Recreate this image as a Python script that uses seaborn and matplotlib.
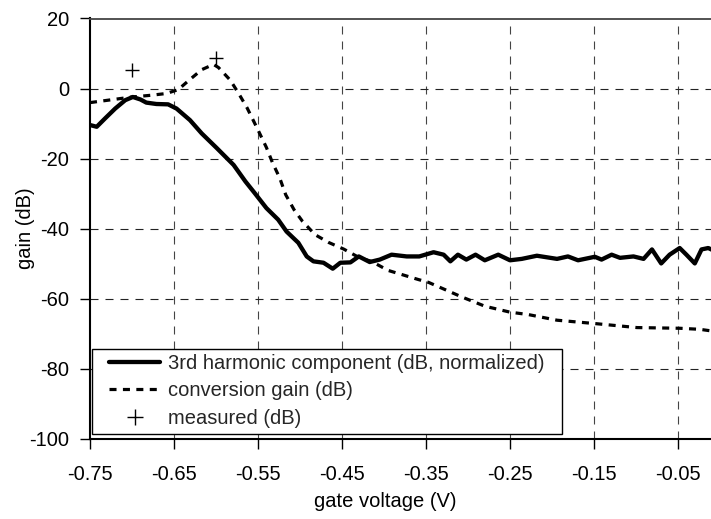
import matplotlib
matplotlib.use("Agg")
import matplotlib.pyplot as plt
import seaborn as sns
import pandas as pd
from matplotlib.lines import Line2D
from matplotlib.patches import Rectangle

# 3rd harmonic component (dB, normalized)
h3_v = [-0.750, -0.742, -0.732, -0.720, -0.708, -0.699, -0.690, -0.683, -0.671, -0.657,
        -0.647, -0.631, -0.617, -0.599, -0.579, -0.565, -0.554, -0.540, -0.526, -0.516,
        -0.502, -0.492, -0.484, -0.472, -0.461, -0.452, -0.440, -0.430, -0.417, -0.405,
        -0.391, -0.373, -0.358, -0.341, -0.329, -0.321, -0.312, -0.302, -0.291, -0.280,
        -0.264, -0.250, -0.236, -0.218, -0.194, -0.181, -0.169, -0.149, -0.141, -0.129,
        -0.119, -0.103, -0.091, -0.081, -0.070, -0.060, -0.048, -0.040, -0.030, -0.022,
        -0.014, -0.005]
h3_db = [-10.4, -10.9, -8.5, -5.7, -3.3, -2.4, -3.1, -4.0, -4.4, -4.5,
         -5.7, -9.0, -12.8, -17.0, -21.8, -26.5, -29.8, -34.1, -37.4, -40.8,
         -44.0, -47.9, -49.3, -49.7, -51.4, -49.7, -49.6, -47.9, -49.5, -48.8,
         -47.4, -47.9, -47.9, -46.7, -47.4, -49.3, -47.4, -48.8, -47.4, -49.0,
         -47.4, -49.0, -48.6, -47.7, -48.6, -47.9, -49.0, -48.0, -48.8, -47.4,
         -48.3, -47.9, -48.6, -45.9, -49.9, -47.4, -45.5, -47.4, -49.9, -45.9,
         -45.5, -46.5]

# conversion gain (dB)
cg_v = [-0.750, -0.728, -0.700, -0.677, -0.659, -0.645, -0.633, -0.617, -0.603, -0.597,
        -0.583, -0.573, -0.563, -0.550, -0.540, -0.533, -0.524, -0.517, -0.507, -0.497,
        -0.482, -0.466, -0.448, -0.429, -0.415, -0.395, -0.359, -0.347, -0.327, -0.308,
        -0.280, -0.250, -0.228, -0.194, -0.147, -0.099, -0.048, -0.024, 0.000]
cg_db = [-4.0, -3.3, -2.4, -1.9, -1.4, -0.3, 2.2, 5.4, 6.9, 6.0,
         2.4, -1.4, -5.5, -11.8, -16.8, -21.0, -25.6, -30.3, -34.6, -37.9,
         -41.7, -43.9, -45.8, -48.3, -49.3, -51.9, -54.5, -55.3, -57.4, -59.4,
         -62.1, -63.8, -64.5, -66.1, -67.1, -68.2, -68.4, -68.7, -69.5]

# measured (dB)
meas_v = [-0.70, -0.60]
meas_db = [5.2, 8.8]

x_ticks = [-0.75, -0.65, -0.55, -0.45, -0.35, -0.25, -0.15, -0.05]
x_tick_labels = ["-0.75", "-0.65", "-0.55", "-0.45", "-0.35", "-0.25", "-0.15", "-0.05"]
y_ticks = [-100, -80, -60, -40, -20, 0, 20]

labels = ["3rd harmonic component (dB, normalized)", "conversion gain (dB)", "measured (dB)"]

sns.set_theme(style="white")
plt.rcParams['font.family'] = ['Liberation Sans', 'DejaVu Sans']
plt.rcParams['axes.unicode_minus'] = False

FS = 14.5
W, H = 711, 519
AX_L, AX_R, AX_T, AX_B = 90, 711, 18.5, 439
AW, AH = AX_R - AX_L, AX_B - AX_T

fig = plt.figure(figsize=(W / 100, H / 100), dpi=100)
ax = fig.add_axes([AX_L / W, (H - AX_B) / H, AW / W, AH / H])

df_h3 = pd.DataFrame({"v": h3_v, "db": h3_db})
df_cg = pd.DataFrame({"v": cg_v, "db": cg_db})
df_m = pd.DataFrame({"v": meas_v, "db": meas_db})

sns.lineplot(data=df_h3, x="v", y="db", ax=ax, color="black", lw=3.1,
             estimator=None, sort=False, zorder=4)
sns.lineplot(data=df_cg, x="v", y="db", ax=ax, color="black", lw=2.3,
             linestyle=(0, (2.2, 2.0)), estimator=None, sort=False, zorder=3)
sns.scatterplot(data=df_m, x="v", y="db", ax=ax, marker="+", s=110,
                color="black", linewidth=1.0, zorder=5)

ax.set_xlim(-0.75, -0.75 + AW / 840)
ax.set_ylim(-100, 20)
ax.set_xticks(x_ticks)
ax.set_xticklabels(x_tick_labels)
ax.set_yticks(y_ticks)

for xv in x_ticks[1:]:
    ax.axvline(xv, color="#444444", lw=0.8, linestyle=(0, (7.2, 6.3)), zorder=1)
for yv in y_ticks[1:-1]:
    ax.axhline(yv, color="#222222", lw=0.8, linestyle=(0, (7.2, 6.3)), zorder=1)

ax.tick_params(axis="both", which="both", direction="out", length=7, width=1,
               color="black", labelsize=FS, colors="black")
ax.tick_params(axis="x", pad=12, bottom=True)
ax.tick_params(axis="y", pad=8, left=True)

for s in ["left", "bottom"]:
    ax.spines[s].set_color("black")
    ax.spines[s].set_linewidth(1.5)
ax.spines["top"].set_color("#444444")
ax.spines["top"].set_linewidth(1.3)
ax.spines["right"].set_visible(False)

ax.set_xlabel("gate voltage (V)", fontsize=FS, color="black")
ax.set_ylabel("gain (dB)", fontsize=FS, color="black")
ax.xaxis.set_label_coords((385 - AX_L) / AW, -(492 - AX_B) / AH)
ax.yaxis.set_label_coords(-(AX_L - 35) / AW, (AX_B - 228) / AH)

# legend frame
ax.add_patch(Rectangle(((92 - AX_L) / AW, (AX_B - 434) / AH), 470 / AW, 85 / AH,
                       transform=ax.transAxes, facecolor="white", edgecolor="black",
                       lw=1.0, zorder=9, clip_on=False))

handles = [
    Line2D([], [], color="black", lw=3.1),
    Line2D([], [], color="black", lw=2.3, linestyle=(0, (2.2, 2.0))),
    Line2D([], [], color="black", marker="+", markersize=11, linestyle="none", markeredgewidth=1.0),
]
leg = ax.legend(handles, labels, loc="center left",
                bbox_to_anchor=((109 - AX_L) / AW, (AX_B - 391) / AH),
                fontsize=FS, frameon=False, borderaxespad=0, borderpad=0,
                handlelength=2.55, handletextpad=0.4, labelspacing=0.4)
leg.set_zorder(10)

fig.savefig("out.png", dpi=100)
